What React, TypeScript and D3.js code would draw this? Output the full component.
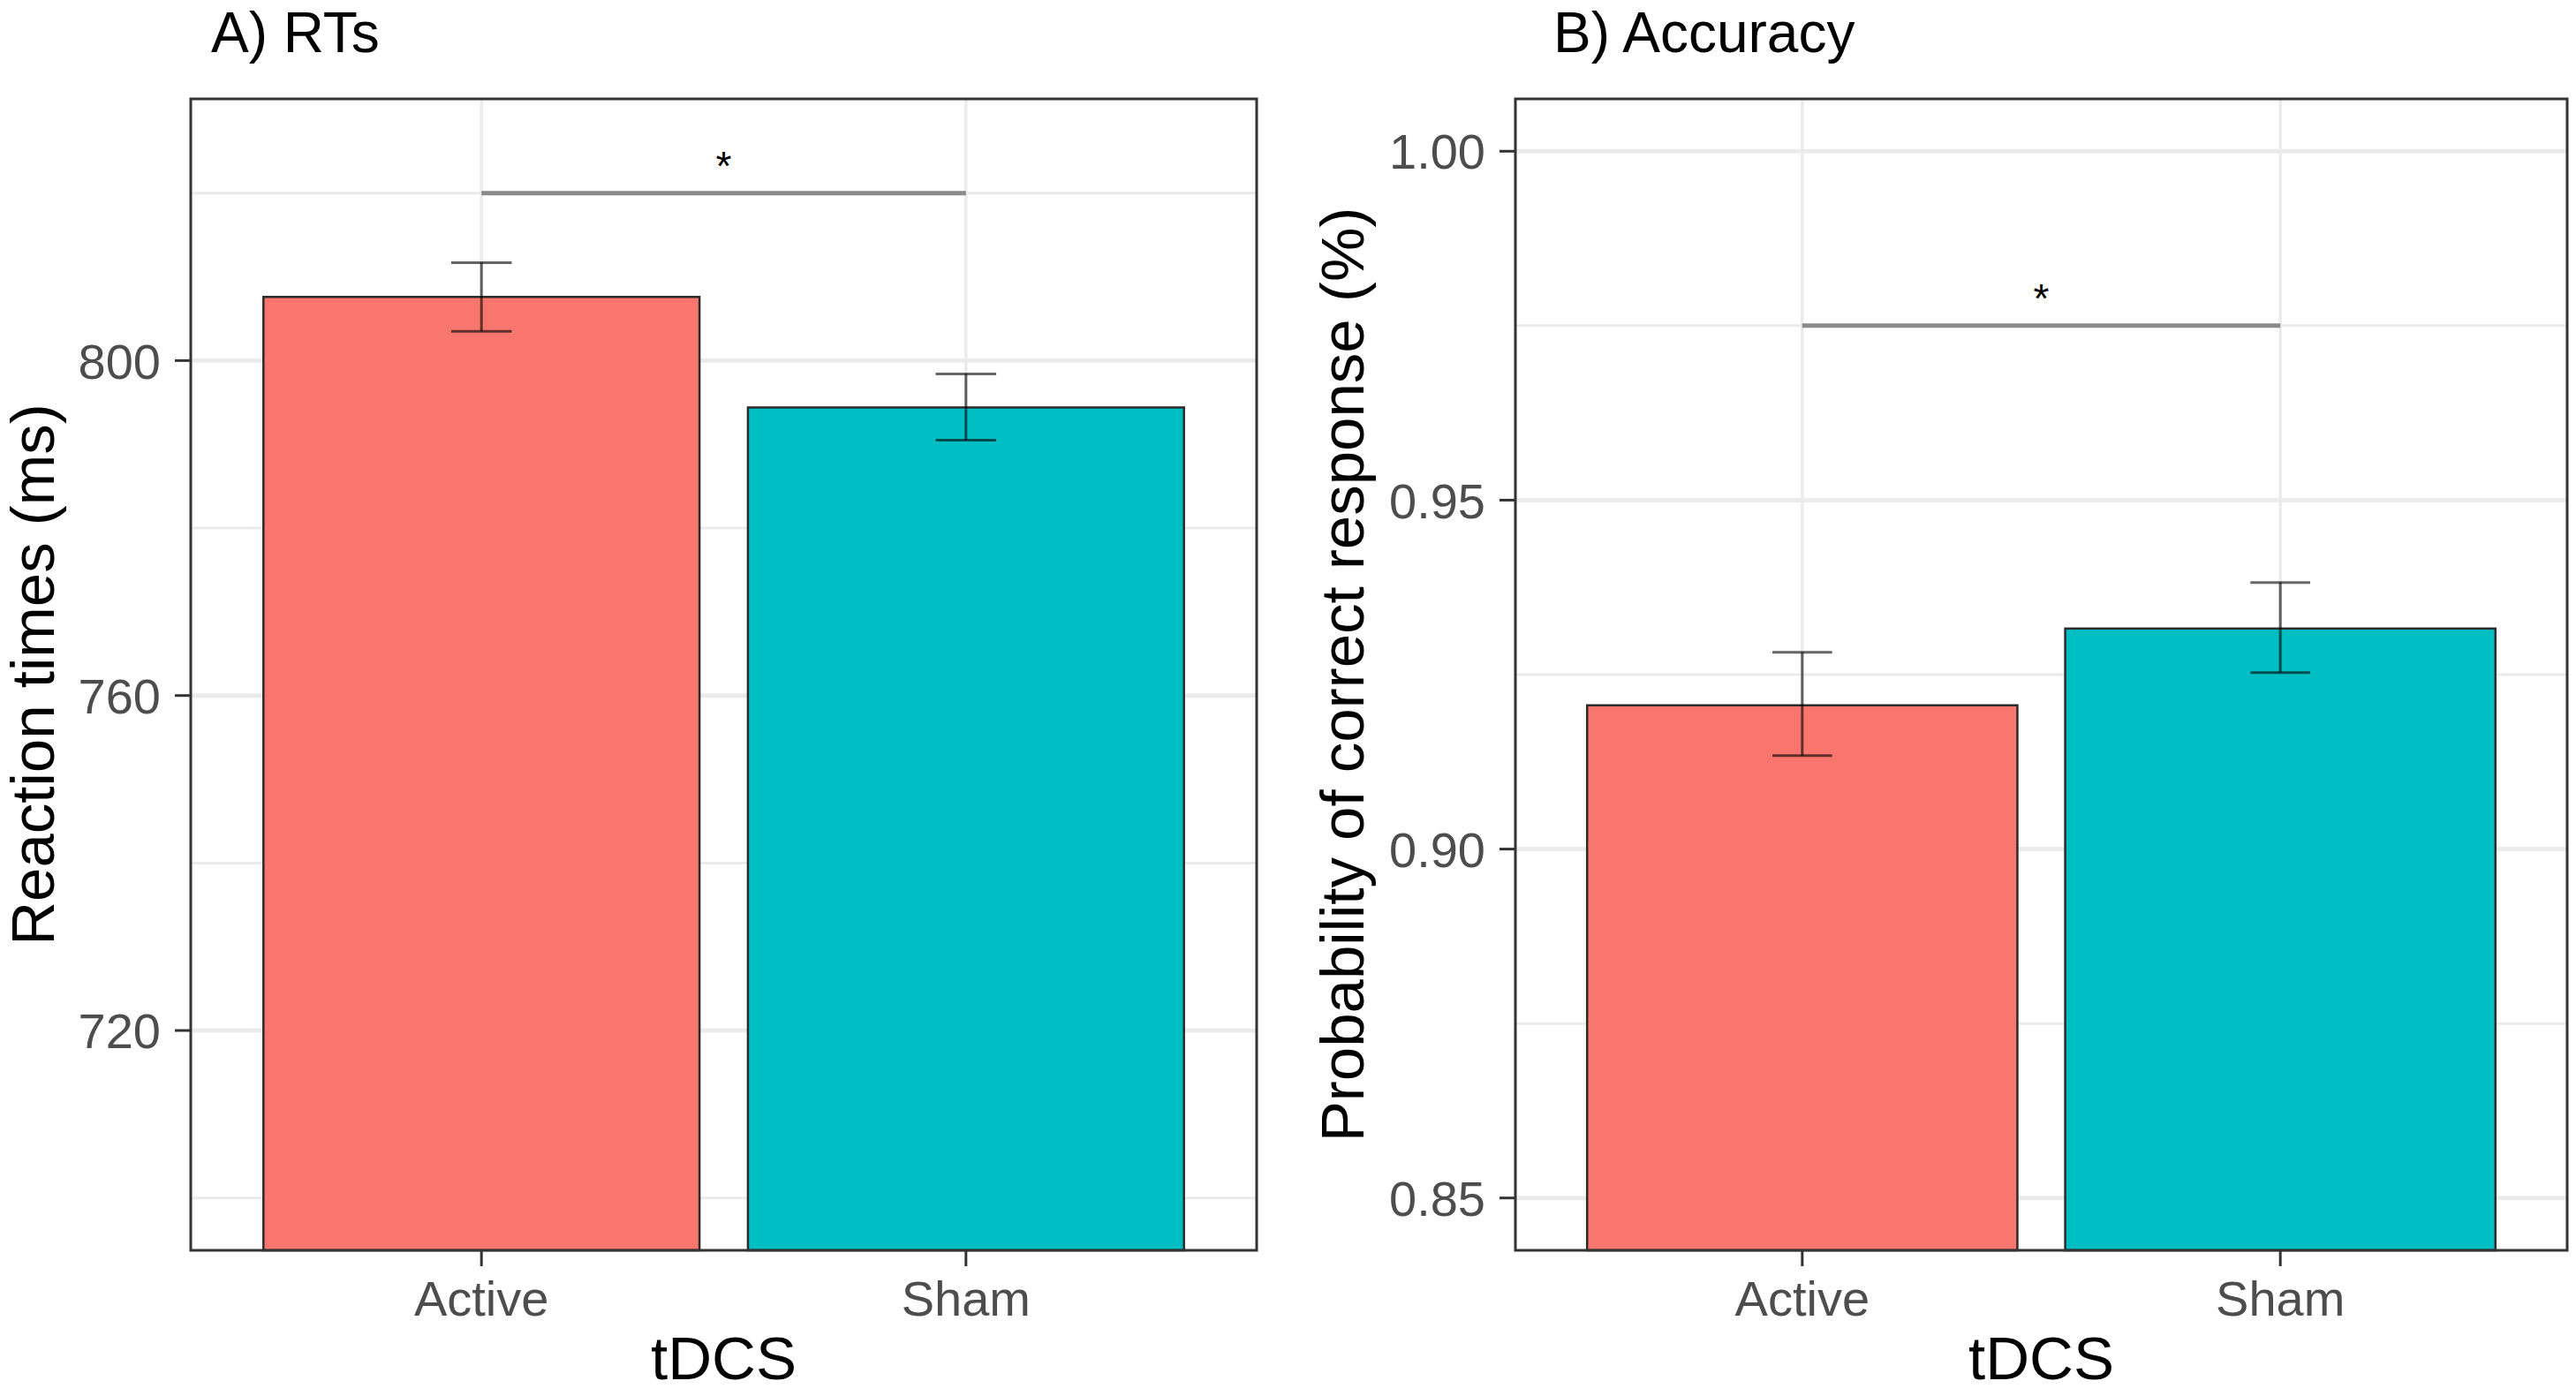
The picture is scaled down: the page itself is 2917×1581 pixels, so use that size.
import * as d3 from "d3";

// ── Data ──────────────────────────────────────────────────

const CATEGORIES = ["Active", "Sham"];
const FILLS = ["#F8766D", "#00BFC4"];

const RT_MEAN = [807.6, 794.4];
const RT_LOW = [803.5, 790.5];
const RT_HIGH = [811.7, 798.4];
const RT_TICKS = [720, 760, 800];
const RT_MINOR = [700, 740, 780, 820];
const RT_LIMITS: [number, number] = [700, 825];
const RT_SIG = 820;

const ACC_MEAN = [0.9206, 0.9316];
const ACC_LOW = [0.9134, 0.9253];
const ACC_HIGH = [0.9282, 0.9382];
const ACC_TICKS = [0.85, 0.9, 0.95, 1.0];
const ACC_MINOR = [0.875, 0.925, 0.975];
const ACC_LIMITS: [number, number] = [0.85, 1.0];
const ACC_SIG = 0.975;

// ── Layout ────────────────────────────────────────────────

const W = 2917;
const H = 1581;
const TOP = 112;
const BOTTOM = 1416;
const FONT = "'Liberation Sans', Arial, Helvetica, sans-serif";

interface PanelProps {
  left: number;
  right: number;
  title: string;
  titleX: number;
  yLabel: string;
  yLabelX: number;
  means: number[];
  lows: number[];
  highs: number[];
  ticks: number[];
  minor: number[];
  limits: [number, number];
  sig: number;
  fmt: (v: number) => string;
}

function Panel({
  left,
  right,
  title,
  titleX,
  yLabel,
  yLabelX,
  means,
  lows,
  highs,
  ticks,
  minor,
  limits,
  sig,
  fmt,
}: PanelProps) {
  // ggplot-style expansion: 5% on continuous y, 0.6 on discrete x
  const pad = (limits[1] - limits[0]) * 0.05;
  const y = d3
    .scaleLinear()
    .domain([limits[0] - pad, limits[1] + pad])
    .range([BOTTOM, TOP]);
  const x = d3.scaleLinear().domain([0.4, 2.6]).range([left, right]);
  const unit = x(1) - x(0);
  const barW = 0.9 * unit;
  const capW = 0.125 * unit;
  const midX = (left + right) / 2;
  const midY = (TOP + BOTTOM) / 2;

  return (
    <g>
      {/* Title */}
      <text x={titleX} y={59} fontSize={64} fontFamily={FONT} fill="#000">
        {title}
      </text>

      {/* Panel background */}
      <rect x={left} y={TOP} width={right - left} height={BOTTOM - TOP} fill="#fff" />

      {/* Grid */}
      {minor.map((v) => (
        <line key={"mn" + v} x1={left} x2={right} y1={y(v)} y2={y(v)} stroke="#EBEBEB" strokeWidth={3} />
      ))}
      {ticks.map((v) => (
        <line key={"mj" + v} x1={left} x2={right} y1={y(v)} y2={y(v)} stroke="#EBEBEB" strokeWidth={5} />
      ))}
      {CATEGORIES.map((c, i) => (
        <line key={"vx" + c} x1={x(i + 1)} x2={x(i + 1)} y1={TOP} y2={BOTTOM} stroke="#EBEBEB" strokeWidth={3.5} />
      ))}

      {/* Bars */}
      {CATEGORIES.map((c, i) => (
        <rect
          key={"bar" + c}
          x={x(i + 1) - barW / 2}
          y={y(means[i])}
          width={barW}
          height={BOTTOM - y(means[i])}
          fill={FILLS[i]}
          stroke="#2b2b2b"
          strokeWidth={2.5}
        />
      ))}

      {/* Error bars */}
      {CATEGORIES.map((c, i) => {
        const cx = x(i + 1);
        return (
          <g key={"err" + c} stroke="#000" strokeOpacity={0.6} strokeWidth={3}>
            <line x1={cx} x2={cx} y1={y(highs[i])} y2={y(lows[i])} />
            <line x1={cx - capW / 2} x2={cx + capW / 2} y1={y(highs[i])} y2={y(highs[i])} />
            <line x1={cx - capW / 2} x2={cx + capW / 2} y1={y(lows[i])} y2={y(lows[i])} />
          </g>
        );
      })}

      {/* Significance bracket */}
      <line x1={x(1)} x2={x(2)} y1={y(sig)} y2={y(sig)} stroke="#8A8A8A" strokeWidth={5} />
      <text
        x={(x(1) + x(2)) / 2}
        y={y(sig) - 15}
        fontSize={46}
        fontFamily={FONT}
        textAnchor="middle"
        fill="#000"
      >
        *
      </text>

      {/* Panel border */}
      <rect
        x={left}
        y={TOP}
        width={right - left}
        height={BOTTOM - TOP}
        fill="none"
        stroke="#333"
        strokeWidth={3}
      />

      {/* Y axis */}
      {ticks.map((v) => (
        <g key={"yt" + v}>
          <line x1={left - 18} x2={left} y1={y(v)} y2={y(v)} stroke="#333" strokeWidth={3} />
          <text
            x={left - 34}
            y={y(v)}
            dy="0.36em"
            fontSize={56}
            fontFamily={FONT}
            textAnchor="end"
            fill="#4D4D4D"
          >
            {fmt(v)}
          </text>
        </g>
      ))}

      {/* X axis */}
      {CATEGORIES.map((c, i) => (
        <g key={"xt" + c}>
          <line x1={x(i + 1)} x2={x(i + 1)} y1={BOTTOM} y2={BOTTOM + 18} stroke="#333" strokeWidth={3} />
          <text
            x={x(i + 1)}
            y={1490}
            fontSize={56}
            fontFamily={FONT}
            textAnchor="middle"
            fill="#4D4D4D"
          >
            {c}
          </text>
        </g>
      ))}

      {/* Axis titles */}
      <text x={midX} y={1562} fontSize={69} fontFamily={FONT} textAnchor="middle" fill="#000">
        tDCS
      </text>
      <text
        transform={`translate(${yLabelX},${midY}) rotate(-90)`}
        fontSize={69}
        fontFamily={FONT}
        textAnchor="middle"
        fill="#000"
      >
        {yLabel}
      </text>
    </g>
  );
}

export default function App() {
  return (
    <svg
      width={W}
      height={H}
      viewBox={`0 0 ${W} ${H}`}
      style={{ position: "absolute", left: 0, top: 0, background: "#fff" }}
    >
      <rect width={W} height={H} fill="#fff" />
      <Panel
        left={216}
        right={1423}
        title="A) RTs"
        titleX={239}
        yLabel="Reaction times (ms)"
        yLabelX={61}
        means={RT_MEAN}
        lows={RT_LOW}
        highs={RT_HIGH}
        ticks={RT_TICKS}
        minor={RT_MINOR}
        limits={RT_LIMITS}
        sig={RT_SIG}
        fmt={(v) => d3.format("d")(v)}
      />
      <Panel
        left={1716}
        right={2907}
        title="B) Accuracy"
        titleX={1759}
        yLabel="Probability of correct response (%)"
        yLabelX={1544}
        means={ACC_MEAN}
        lows={ACC_LOW}
        highs={ACC_HIGH}
        ticks={ACC_TICKS}
        minor={ACC_MINOR}
        limits={ACC_LIMITS}
        sig={ACC_SIG}
        fmt={(v) => d3.format(".2f")(v)}
      />
    </svg>
  );
}
